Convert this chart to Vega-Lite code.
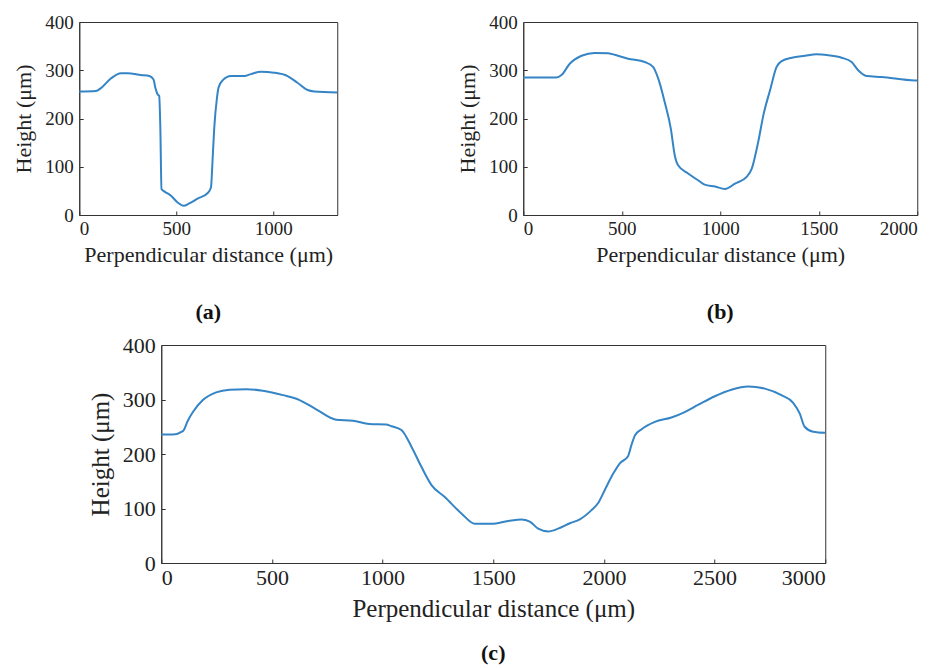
{
  "$schema": "https://vega.github.io/schema/vega-lite/v6.json",
  "padding": {"left": 12, "top": 12, "right": 0, "bottom": 0},
  "background": "white",
  "config": {
    "font": "Liberation Serif",
    "view": {"stroke": "#333", "strokeWidth": 1},
    "axis": {
      "grid": false,
      "domainColor": "#333",
      "tickColor": "#333",
      "tickSize": -4,
      "labelPadding": 10,
      "labelColor": "#222",
      "titleColor": "#222",
      "titleFontWeight": "normal",
      "labelFont": "Liberation Serif",
      "titleFont": "Liberation Serif",
      "format": "d"
    },
    "title": {"font": "Liberation Serif", "fontWeight": "bold", "color": "#111", "orient": "bottom", "anchor": "middle"}
  },
  "datasets": {
    "a": [
      {"x": 0, "y": 256}, {"x": 86, "y": 257}, {"x": 112, "y": 263}, {"x": 163, "y": 283},
      {"x": 215, "y": 294}, {"x": 249, "y": 294}, {"x": 318, "y": 290}, {"x": 361, "y": 288},
      {"x": 383, "y": 281}, {"x": 392, "y": 264}, {"x": 404, "y": 250}, {"x": 412, "y": 247},
      {"x": 418, "y": 181}, {"x": 424, "y": 54}, {"x": 438, "y": 49}, {"x": 473, "y": 40},
      {"x": 507, "y": 26}, {"x": 538, "y": 19}, {"x": 567, "y": 24}, {"x": 610, "y": 34},
      {"x": 661, "y": 45}, {"x": 679, "y": 57}, {"x": 687, "y": 112}, {"x": 696, "y": 181},
      {"x": 710, "y": 243}, {"x": 718, "y": 264}, {"x": 739, "y": 279}, {"x": 782, "y": 288},
      {"x": 851, "y": 288}, {"x": 885, "y": 292}, {"x": 936, "y": 297}, {"x": 1005, "y": 295},
      {"x": 1074, "y": 288}, {"x": 1125, "y": 274}, {"x": 1177, "y": 259}, {"x": 1211, "y": 256},
      {"x": 1330, "y": 254}
    ],
    "b": [
      {"x": 0, "y": 285}, {"x": 169, "y": 285}, {"x": 194, "y": 290}, {"x": 237, "y": 314},
      {"x": 296, "y": 330}, {"x": 363, "y": 336}, {"x": 431, "y": 335}, {"x": 473, "y": 331},
      {"x": 532, "y": 324}, {"x": 617, "y": 317}, {"x": 659, "y": 307}, {"x": 685, "y": 283},
      {"x": 718, "y": 234}, {"x": 749, "y": 179}, {"x": 769, "y": 124}, {"x": 786, "y": 103},
      {"x": 837, "y": 86}, {"x": 887, "y": 72}, {"x": 921, "y": 63}, {"x": 974, "y": 59},
      {"x": 1024, "y": 54}, {"x": 1075, "y": 65}, {"x": 1134, "y": 79}, {"x": 1160, "y": 96},
      {"x": 1193, "y": 152}, {"x": 1219, "y": 207}, {"x": 1253, "y": 259}, {"x": 1286, "y": 307},
      {"x": 1312, "y": 319}, {"x": 1363, "y": 326}, {"x": 1430, "y": 330}, {"x": 1489, "y": 333},
      {"x": 1548, "y": 331}, {"x": 1616, "y": 326}, {"x": 1667, "y": 317}, {"x": 1700, "y": 300},
      {"x": 1743, "y": 288}, {"x": 1819, "y": 286}, {"x": 1988, "y": 279}, {"x": 2000, "y": 279}
    ],
    "c": [
      {"x": 0, "y": 236}, {"x": 53, "y": 236}, {"x": 98, "y": 242}, {"x": 120, "y": 261},
      {"x": 143, "y": 277}, {"x": 188, "y": 299}, {"x": 248, "y": 313}, {"x": 309, "y": 318},
      {"x": 384, "y": 319}, {"x": 459, "y": 316}, {"x": 550, "y": 308}, {"x": 625, "y": 299},
      {"x": 700, "y": 282}, {"x": 790, "y": 263}, {"x": 866, "y": 261}, {"x": 941, "y": 255},
      {"x": 1016, "y": 254}, {"x": 1040, "y": 251}, {"x": 1085, "y": 244}, {"x": 1131, "y": 213},
      {"x": 1176, "y": 176}, {"x": 1221, "y": 143}, {"x": 1281, "y": 121}, {"x": 1356, "y": 91},
      {"x": 1417, "y": 72}, {"x": 1492, "y": 72}, {"x": 1567, "y": 77}, {"x": 1627, "y": 80},
      {"x": 1665, "y": 76}, {"x": 1703, "y": 63}, {"x": 1748, "y": 58}, {"x": 1793, "y": 63},
      {"x": 1846, "y": 73}, {"x": 1891, "y": 80}, {"x": 1944, "y": 97}, {"x": 1974, "y": 110},
      {"x": 2004, "y": 134}, {"x": 2042, "y": 164}, {"x": 2072, "y": 183}, {"x": 2109, "y": 196},
      {"x": 2124, "y": 216}, {"x": 2140, "y": 234}, {"x": 2169, "y": 245}, {"x": 2230, "y": 259},
      {"x": 2305, "y": 267}, {"x": 2365, "y": 277}, {"x": 2425, "y": 290}, {"x": 2501, "y": 306},
      {"x": 2576, "y": 318}, {"x": 2651, "y": 324}, {"x": 2727, "y": 320}, {"x": 2802, "y": 308},
      {"x": 2855, "y": 294}, {"x": 2885, "y": 274}, {"x": 2907, "y": 250}, {"x": 2945, "y": 241},
      {"x": 3000, "y": 239}
    ]
  },
  "vconcat": [
    {
      "hconcat": [
        {
          "data": {"name": "a"},
          "width": 258,
          "height": 193,
          "title": {"text": "(a)", "fontSize": 22, "offset": 37},
          "mark": {"type": "line", "color": "#3585c6", "strokeWidth": 2, "interpolate": "monotone"},
          "encoding": {
            "x": {"field": "x", "type": "quantitative", "scale": {"domain": [0, 1330], "nice": false},
                  "axis": {"values": [0, 500, 1000], "format": "d", "labelFont": "Liberation Serif", "title": "Perpendicular distance (μm)", "labelFontSize": 19, "titleFontSize": 22, "titlePadding": 6, "labelPadding": 8}},
            "y": {"field": "y", "type": "quantitative", "scale": {"domain": [0, 400], "nice": false},
                  "axis": {"values": [0, 100, 200, 300, 400], "format": "d", "labelFont": "Liberation Serif", "title": "Height (μm)", "labelFontSize": 19, "titleFontSize": 22, "titlePadding": 9}}
          }
        },
        {
          "data": {"name": "b"},
          "width": 394,
          "height": 193,
          "title": {"text": "(b)", "fontSize": 22, "offset": 37},
          "mark": {"type": "line", "color": "#3585c6", "strokeWidth": 2, "interpolate": "monotone"},
          "encoding": {
            "x": {"field": "x", "type": "quantitative", "scale": {"domain": [0, 2000], "nice": false},
                  "axis": {"values": [0, 500, 1000, 1500, 2000], "format": "d", "labelFont": "Liberation Serif", "title": "Perpendicular distance (μm)", "labelFontSize": 19, "titleFontSize": 22, "titlePadding": 6, "labelPadding": 8}},
            "y": {"field": "y", "type": "quantitative", "scale": {"domain": [0, 400], "nice": false},
                  "axis": {"values": [0, 100, 200, 300, 400], "format": "d", "labelFont": "Liberation Serif", "title": "Height (μm)", "labelFontSize": 19, "titleFontSize": 22, "titlePadding": 9}}
          }
        }
      ],
      "spacing": 114
    },
    {
      "data": {"name": "c"},
      "width": 664,
      "height": 218,
      "title": {"text": "(c)", "fontSize": 22, "offset": 22},
      "layer": [
        {
          "mark": {"type": "line", "color": "#3585c6", "strokeWidth": 2, "interpolate": "monotone"},
          "encoding": {
            "x": {"field": "x", "type": "quantitative", "scale": {"domain": [0, 3000], "nice": false},
                  "axis": {"values": [0, 500, 1000, 1500, 2000, 2500, 3000], "format": "d", "labelFont": "Liberation Serif", "title": "Perpendicular distance (μm)", "labelFontSize": 22, "titleFontSize": 25, "titlePadding": 8, "labelPadding": 8}},
            "y": {"field": "y", "type": "quantitative", "scale": {"domain": [0, 400], "nice": false},
                  "axis": {"values": [0, 100, 200, 300, 400], "format": "d", "labelFont": "Liberation Serif", "title": "Height (μm)", "labelFontSize": 22, "titleFontSize": 25, "titlePadding": 9}}
          }
        },
        {
          "mark": {"type": "line", "opacity": 0},
          "encoding": {
            "x": {"field": "x", "type": "quantitative"},
            "y": {"field": "y", "type": "quantitative",
                  "axis": {"orient": "right", "labels": false, "ticks": false, "grid": false, "title": null, "domain": true, "domainColor": "transparent", "offset": 14}}
          }
        }
      ],
      "resolve": {"axis": {"y": "independent"}}
    }
  ],
  "spacing": 9,
  "center": true
}
